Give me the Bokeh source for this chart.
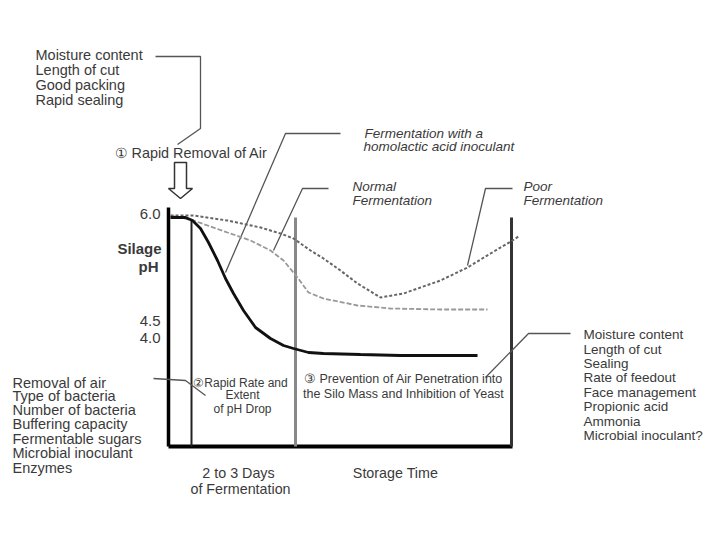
from bokeh.plotting import figure
from bokeh.models import Range1d
from bokeh.core.properties import value
from bokeh.embed import file_html
from bokeh.resources import INLINE

# ---- curve data (schematic diagram units: x = time position, y = pH position) ----
homo_x = [170, 185, 192, 200, 208, 217, 225, 233, 243, 255, 270, 283, 293, 308, 323, 360, 400, 440, 477]
homo_y = [217, 217, 220, 228, 242, 260, 278, 293, 310, 327, 338, 345, 348, 352, 353, 354, 355, 355, 355]
poor_x = [170, 193, 227, 260, 280, 293, 310, 323, 340, 357, 380, 403, 420, 440, 467, 490, 512, 518]
poor_y = [215, 215, 220, 227, 233, 238, 250, 258, 270, 283, 297, 293, 287, 280, 267, 253, 240, 236]
norm_x = [170, 193, 227, 250, 270, 283, 297, 308, 323, 357, 390, 440, 487]
norm_y = [215, 220, 232, 240, 250, 260, 277, 292, 298, 305, 308, 309, 309]

# ---- frame ----
frame_x0 = [168, 168, 191, 511]
frame_y0 = [207, 446, 220, 217]
frame_x1 = [168, 512, 191, 511]
frame_y1 = [446, 446, 446, 446]
storage_x = 295
storage_top = 217

# ---- pH tick labels ----
ph_labels = ["6.0", "4.5", "4.0"]
ph_pos = [213, 320, 337]

# ---- leader lines ----
leader_xs = [[155, 200, 200, 177], [340, 285, 225], [328, 302, 273], [512, 485, 467],
             [153, 185, 205], [570, 528, 485]]
leader_ys = [[56, 56, 128, 144], [133, 133, 272], [188, 188, 250], [188, 188, 265],
             [378, 380, 395], [333, 333, 377]]

# ---- arrow outline ----
arrow_x = [174, 186, 186, 192, 180, 168, 174]
arrow_y = [162, 162, 188, 188, 198, 188, 188]

# ---- text ----
top_left = ["Moisture content", "Length of cut", "Good  packing", "Rapid sealing"]
top_left_y = [54, 69, 84, 99]
bottom_left = ["Removal of air", "Type of bacteria", "Number of bacteria", "Buffering capacity",
               "Fermentable sugars", "Microbial inoculant", "Enzymes"]
bottom_left_y = [382, 395, 409, 423, 438, 452, 467]
right_list = ["Moisture content", "Length of cut", "Sealing", "Rate of feedout",
              "Face management", "Propionic acid", "Ammonia", "Microbial inoculant?"]
right_list_y = [334, 349, 363, 377, 392, 406, 421, 435]
curve_labels = ["Fermentation with a", "homolactic acid inoculant", "Normal", "Fermentation",
                "Poor", "Fermentation"]
curve_lab_x = [364, 363, 352, 352, 523, 523]
curve_lab_y = [133, 146, 186, 200, 186, 200]
mid_a = ["\u2461Rapid Rate and", "Extent", "of pH Drop"]
mid_a_x = [240, 242, 242]
mid_a_y = [382, 394, 408]
mid_b = ["\u2462 Prevention of Air Penetration into", "the Silo Mass and Inhibition of Yeast"]
mid_b_x = [403, 403]
mid_b_y = [378, 393]
time_labels = ["2 to 3 Days", "of Fermentation", "Storage Time"]
time_x = [238, 240, 395]
time_y = [472, 488, 472]

FONT = value("Liberation Sans")
INK = "#3a3a3a"

p = figure(width=704, height=524, x_range=Range1d(0, 704), y_range=Range1d(524, 0),
           output_backend="svg", toolbar_location=None, x_axis_type=None, y_axis_type=None,
           min_border=0, outline_line_color=None, background_fill_color="white")
p.xgrid.visible = False
p.ygrid.visible = False

# frame
p.segment(x0=frame_x0[:1], y0=frame_y0[:1], x1=frame_x1[:1], y1=frame_y1[:1], line_color="black", line_width=3.5)
p.segment(x0=frame_x0[1:2], y0=frame_y0[1:2], x1=frame_x1[1:2], y1=frame_y1[1:2], line_color="black", line_width=4)
p.segment(x0=frame_x0[2:3], y0=frame_y0[2:3], x1=frame_x1[2:3], y1=frame_y1[2:3], line_color="#222222", line_width=2)
p.segment(x0=frame_x0[3:], y0=frame_y0[3:], x1=frame_x1[3:], y1=frame_y1[3:], line_color="#333333", line_width=3)
p.segment(x0=[storage_x], y0=[storage_top], x1=[storage_x], y1=[446], line_color="#888888", line_width=3)

# leaders
p.multi_line(xs=leader_xs, ys=leader_ys, line_color="#555555", line_width=1.3)

# curves
p.line(norm_x, norm_y, line_color="#999999", line_width=1.8, line_dash="5 2")
p.line(poor_x, poor_y, line_color="#666666", line_width=2, line_dash="3 2")
p.line(homo_x, homo_y, line_color="#111111", line_width=2.8)

# arrow
p.patch(arrow_x, arrow_y, fill_color="white", line_color="#333333", line_width=1.5)

# texts
p.text(x=[35] * len(top_left), y=top_left_y, text=top_left, text_font=FONT, text_font_size="14.5px",
       text_color=INK, text_baseline="middle")
p.text(x=[114], y=[152], text=["\u2460 Rapid Removal of Air"], text_font=FONT, text_font_size="14.4px",
       text_color=INK, text_baseline="middle")
p.text(x=[12] * len(bottom_left), y=bottom_left_y, text=bottom_left, text_font=FONT, text_font_size="14.5px",
       text_color=INK, text_baseline="middle")
p.text(x=[583] * len(right_list), y=right_list_y, text=right_list, text_font=FONT, text_font_size="13.5px",
       text_color=INK, text_baseline="middle")
p.text(x=curve_lab_x, y=curve_lab_y, text=curve_labels, text_font=FONT, text_font_size="13.5px",
       text_font_style="italic", text_color=INK, text_baseline="middle")
p.text(x=mid_a_x, y=mid_a_y, text=mid_a, text_font=FONT, text_font_size="12px",
       text_color=INK, text_baseline="middle", text_align="center")
p.text(x=mid_b_x, y=mid_b_y, text=mid_b, text_font=FONT, text_font_size="12.5px",
       text_color=INK, text_baseline="middle", text_align="center")
p.text(x=time_x, y=time_y, text=time_labels, text_font=FONT, text_font_size="14.3px",
       text_color=INK, text_baseline="middle", text_align="center")
p.text(x=[160] * 3, y=ph_pos, text=ph_labels, text_font=FONT, text_font_size="15px",
       text_color=INK, text_baseline="middle", text_align="right")
p.text(x=[139, 148], y=[248, 266], text=["Silage", "pH"], text_font=FONT, text_font_size="15px",
       text_font_style="bold", text_color=INK, text_baseline="middle", text_align="center")

open("out.html", "w").write(file_html(p, INLINE))
